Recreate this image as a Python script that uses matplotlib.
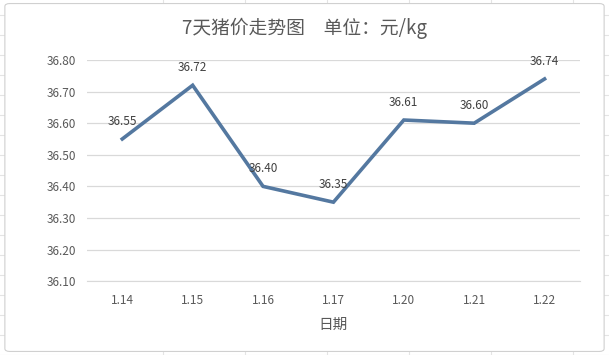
import matplotlib.pyplot as plt
from matplotlib.patches import FancyBboxPatch
from matplotlib.lines import Line2D

plt.switch_backend("Agg")
plt.rcParams["font.family"] = ["Noto Sans CJK SC", "DejaVu Sans"]

dates = ["1.14", "1.15", "1.16", "1.17", "1.20", "1.21", "1.22"]
prices = [36.55, 36.72, 36.40, 36.35, 36.61, 36.60, 36.74]
y_ticks = [36.10, 36.20, 36.30, 36.40, 36.50, 36.60, 36.70, 36.80]

text_color = "#595959"
grid_color = "#D9D9D9"
line_color = "#5478A0"

fig = plt.figure(figsize=(6.09, 3.55), dpi=100)
fig.patch.set_facecolor("white")

# spreadsheet cell lines behind the chart
for x in [0.268, 0.402, 0.537, 0.672, 0.806, 0.941]:
    fig.add_artist(Line2D([x, x], [0, 1], color="#E4E4E4", lw=0.8, zorder=-3))
for y in range(0, 355, 20):
    fig.add_artist(Line2D([0, 1], [y / 355, y / 355], color="#E4E4E4", lw=0.8, zorder=-3))

fig.add_artist(FancyBboxPatch((0.008, 0.01), 0.984, 0.98,
                              boxstyle="round,pad=0,rounding_size=0.008",
                              transform=fig.transFigure, facecolor="white",
                              edgecolor="#D0D0D0", lw=0.8, zorder=-2))

ax = fig.add_axes([0.143, 0.208, 0.809, 0.623])
ax.patch.set_visible(False)
x = list(range(len(dates)))
ax.plot(x, prices, color=line_color, linewidth=2.6, solid_joinstyle="miter")

for xi, p in zip(x, prices):
    ax.annotate(f"{p:.2f}", (xi, p), xytext=(0, 8), textcoords="offset points",
                ha="center", va="bottom", fontsize=8.5, color="#404040")

ax.set_xlim(-0.5, len(dates) - 0.5)
ax.set_ylim(36.10, 36.80)
ax.set_yticks(y_ticks)
ax.set_yticklabels([f"{v:.2f}" for v in y_ticks])
ax.set_xticks(x)
ax.set_xticklabels(dates)
ax.tick_params(axis="both", length=0, colors=text_color, labelsize=8.5)
ax.tick_params(axis="y", pad=8)
ax.tick_params(axis="x", pad=9)
ax.grid(axis="y", color=grid_color, lw=0.9)
ax.set_axisbelow(True)
for s in ["top", "right", "left"]:
    ax.spines[s].set_visible(False)
ax.spines["bottom"].set_color(grid_color)

ax.set_xlabel("日期", fontsize=10.5, color=text_color, labelpad=8)
fig.text(0.5, 0.92, "7天猪价走势图\u3000单位：元/kg", ha="center", va="center",
         fontsize=13.5, color=text_color)

fig.savefig("out.png", dpi=100)
